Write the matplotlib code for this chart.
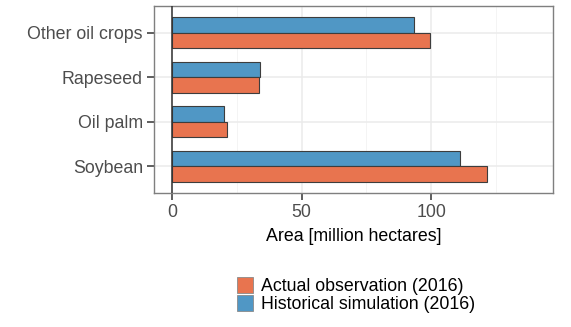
import matplotlib
matplotlib.use("Agg")
import matplotlib.pyplot as plt
from matplotlib.patches import Patch
import numpy as np

plt.rcParams['font.family'] = ['Liberation Sans', 'DejaVu Sans']

# Crops listed bottom-to-top on the y axis
crops = ["Soybean", "Oil palm", "Rapeseed", "Other oil crops"]
actual_2016 = [121.6, 21.1, 33.6, 99.4]
simulated_2016 = [111.2, 20.2, 34.0, 93.4]

series_labels = ["Actual observation (2016)", "Historical simulation (2016)"]
orange = "#E8744F"
blue = "#5097C5"
edge = "#3d3d3d"

W, H = 571, 327
fig = plt.figure(figsize=(W / 100, H / 100), dpi=100)
ax = fig.add_axes([154 / W, (H - 193) / H, (553 - 154) / W, (193 - 6) / H])

y = np.arange(1, len(crops) + 1)
bh = 0.35
ax.barh(y + bh / 2, simulated_2016, height=bh, color=blue, edgecolor=edge,
        linewidth=0.8, zorder=3)
ax.barh(y - bh / 2, actual_2016, height=bh, color=orange, edgecolor=edge,
        linewidth=0.8, zorder=3)
ax.axvline(0, color="#333333", linewidth=1.1, zorder=4)

ax.set_xlim(-7, 147)
ax.set_ylim(0.4, 4.6)
ax.set_yticks(y)
ax.set_yticklabels(crops)
ax.set_xticks([0, 50, 100])
ax.set_xticks([25, 75, 125], minor=True)

ax.grid(which="major", color="#ebebeb", linewidth=1.1, zorder=0)
ax.grid(which="minor", axis="x", color="#f2f2f2", linewidth=0.6, zorder=0)
ax.set_axisbelow(True)

for s in ax.spines.values():
    s.set_color("#7f7f7f")
    s.set_linewidth(1.0)

ax.tick_params(axis="both", which="major", length=5, width=1.1,
               color="#333333", labelsize=12.8, labelcolor="#4d4d4d", pad=3)
ax.tick_params(axis="x", which="minor", length=0)

ax.set_xlabel("Area [million hectares]", fontsize=12.8, color="black", labelpad=5)

handles = [Patch(facecolor=orange, edgecolor="#8a8a8a", linewidth=0.6),
           Patch(facecolor=blue, edgecolor="#8a8a8a", linewidth=0.6)]
fig.legend(handles, series_labels, loc="center left",
           bbox_to_anchor=(223 / W, 1 - 295 / H), frameon=False,
           fontsize=12.8, handlelength=0.9, handleheight=1.0,
           labelspacing=0.0, handletextpad=0.45, borderpad=0.3)

fig.savefig("out.png", dpi=100)
